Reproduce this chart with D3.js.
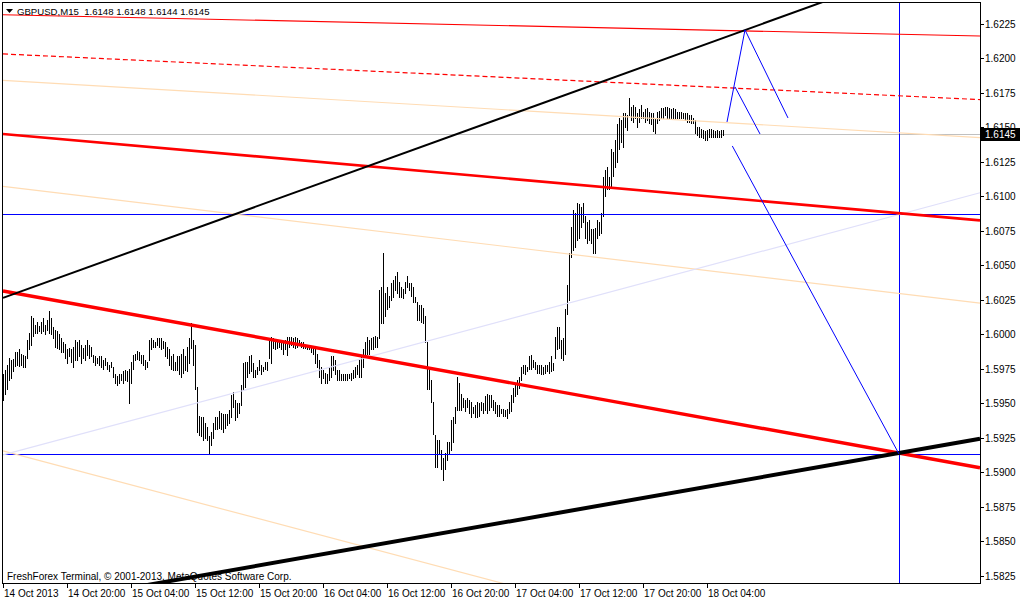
<!DOCTYPE html>
<html><head><meta charset="utf-8">
<script src="https://cdn.jsdelivr.net/npm/d3@7"></script>
<style>
html,body{margin:0;padding:0;background:#fff;overflow:hidden;}
svg{display:block;}
text{font-family:"Liberation Sans",Arial,sans-serif;font-size:10px;fill:#000;}
</style></head><body>
<svg id="c" width="1020" height="601"></svg>
<script>
// ---------------- DATA ----------------
const symbol = "GBPUSD,M15";
const lastOHLC = [1.6148, 1.6148, 1.6144, 1.6145];
const bidPrice = 1.6145;
const watermark = "FreshForex Terminal, \u00A9 2001-2013, MetaQuotes Software Corp.";

// M15 bars, index 0 = 14 Oct 2013 12:00
const highs = [
1.5971,1.5974,1.5978,1.5983,1.5981,1.5982,1.5987,1.5987,1.5989,1.5986,
1.5985,1.5984,1.5996,1.6001,1.6013,1.6012,1.6007,1.6009,1.6006,1.6009,
1.6012,1.6007,1.6010,1.6017,1.6012,1.6005,1.6003,1.6002,1.6000,1.5997,
1.5994,1.5993,1.5989,1.5990,1.5989,1.5991,1.5996,1.5994,1.5996,1.5992,
1.5990,1.5992,1.5996,1.5992,1.5991,1.5985,1.5984,1.5983,1.5984,1.5984,
1.5981,1.5983,1.5980,1.5978,1.5980,1.5976,1.5971,1.5970,1.5971,1.5971,
1.5973,1.5974,1.5973,1.5975,1.5980,1.5985,1.5986,1.5988,1.5987,1.5985,
1.5985,1.5981,1.5980,1.5996,1.5997,1.5996,1.5994,1.5997,1.5997,1.5997,
1.5995,1.5994,1.5991,1.5989,1.5984,1.5986,1.5980,1.5984,1.5984,1.5986,
1.5989,1.5984,1.5991,1.5997,1.6008,1.5996,1.5992,1.5962,1.5941,1.5940,
1.5940,1.5936,1.5933,1.5926,1.5929,1.5936,1.5940,1.5940,1.5944,1.5943,
1.5942,1.5942,1.5942,1.5945,1.5956,1.5958,1.5952,1.5950,1.5950,1.5963,
1.5979,1.5980,1.5980,1.5984,1.5985,1.5979,1.5974,1.5976,1.5981,1.5978,
1.5976,1.5980,1.5980,1.5996,1.5998,1.5997,1.5996,1.5994,1.5996,1.5994,
1.5994,1.5996,1.5998,1.5998,1.5998,1.5997,1.5998,1.5997,1.5996,1.5994,
1.5994,1.5992,1.5992,1.5991,1.5991,1.5991,1.5990,1.5986,1.5981,1.5976,
1.5974,1.5972,1.5971,1.5976,1.5984,1.5984,1.5981,1.5974,1.5974,1.5971,
1.5971,1.5971,1.5971,1.5971,1.5972,1.5974,1.5976,1.5978,1.5981,1.5985,
1.5989,1.5994,1.5998,1.5996,1.5997,1.5998,1.5999,1.5998,1.6032,1.6034,
1.6059,1.6030,1.6034,1.6028,1.6037,1.6039,1.6042,1.6045,1.6038,1.6034,
1.6033,1.6038,1.6042,1.6037,1.6037,1.6034,1.6027,1.6023,1.6021,1.6021,
1.6019,1.6013,1.5994,1.5976,1.5967,1.5951,1.5927,1.5923,1.5923,1.5916,
1.5910,1.5914,1.5922,1.5922,1.5938,1.5940,1.5947,1.5969,1.5965,1.5957,
1.5954,1.5952,1.5954,1.5952,1.5951,1.5947,1.5949,1.5951,1.5950,1.5951,
1.5950,1.5955,1.5957,1.5956,1.5956,1.5952,1.5951,1.5949,1.5949,1.5946,
1.5946,1.5945,1.5946,1.5951,1.5956,1.5961,1.5965,1.5967,1.5969,1.5976,
1.5978,1.5978,1.5976,1.5984,1.5985,1.5981,1.5980,1.5978,1.5978,1.5978,
1.5976,1.5978,1.5978,1.5980,1.5984,1.5979,1.5998,1.6005,1.6005,1.5996,
1.5997,1.6018,1.6036,1.6059,1.6078,1.6090,1.6088,1.6095,1.6094,1.6092,
1.6095,1.6086,1.6081,1.6083,1.6076,1.6076,1.6077,1.6083,1.6081,1.6088,
1.6114,1.6119,1.6121,1.6114,1.6134,1.6132,1.6141,1.6152,1.6157,1.6155,
1.6160,1.6160,1.6159,1.6171,1.6165,1.6166,1.6165,1.6160,1.6163,1.6166,
1.6161,1.6163,1.6164,1.6161,1.6160,1.6160,1.6157,1.6161,1.6162,1.6164,
1.6164,1.6165,1.6165,1.6164,1.6163,1.6164,1.6163,1.6161,1.6161,1.6161,
1.6160,1.6160,1.6160,1.6159,1.6159,1.6157,1.6155,1.6150,1.6150,1.6149,
1.6148,1.6147,1.6148,1.6149,1.6149,1.6148,1.6147,1.6148,1.6147,1.6148,1.6148
];
const lows = [
1.5952,1.5957,1.5960,1.5967,1.5968,1.5973,1.5977,1.5978,1.5977,1.5978,
1.5976,1.5976,1.5983,1.5989,1.5992,1.5999,1.6001,1.6001,1.6002,1.6001,
1.6002,1.6000,1.6003,1.6001,1.6000,1.5997,1.5991,1.5990,1.5989,1.5987,
1.5987,1.5983,1.5979,1.5984,1.5980,1.5976,1.5981,1.5981,1.5984,1.5979,
1.5983,1.5981,1.5985,1.5983,1.5984,1.5980,1.5978,1.5979,1.5978,1.5976,
1.5975,1.5978,1.5975,1.5973,1.5976,1.5969,1.5965,1.5963,1.5965,1.5967,
1.5965,1.5967,1.5966,1.5950,1.5965,1.5975,1.5981,1.5982,1.5981,1.5979,
1.5978,1.5975,1.5976,1.5981,1.5989,1.5991,1.5991,1.5992,1.5991,1.5989,
1.5990,1.5984,1.5983,1.5978,1.5975,1.5974,1.5974,1.5974,1.5971,1.5969,
1.5972,1.5974,1.5973,1.5979,1.5990,1.5978,1.5960,1.5929,1.5927,1.5926,
1.5923,1.5925,1.5923,1.5914,1.5920,1.5925,1.5931,1.5931,1.5932,1.5931,
1.5929,1.5932,1.5934,1.5936,1.5940,1.5947,1.5938,1.5940,1.5943,1.5949,
1.5960,1.5962,1.5969,1.5972,1.5973,1.5969,1.5969,1.5971,1.5974,1.5971,
1.5973,1.5975,1.5974,1.5983,1.5979,1.5990,1.5989,1.5990,1.5991,1.5989,
1.5986,1.5989,1.5985,1.5991,1.5992,1.5991,1.5990,1.5991,1.5992,1.5991,
1.5990,1.5990,1.5989,1.5989,1.5987,1.5986,1.5979,1.5976,1.5969,1.5965,
1.5968,1.5965,1.5965,1.5967,1.5969,1.5974,1.5971,1.5967,1.5967,1.5967,
1.5967,1.5967,1.5967,1.5968,1.5967,1.5968,1.5969,1.5971,1.5969,1.5969,
1.5976,1.5984,1.5986,1.5986,1.5989,1.5989,1.5991,1.5991,1.5997,1.6008,
1.6008,1.6013,1.6018,1.6020,1.6025,1.6027,1.6032,1.6030,1.6027,1.6027,
1.6026,1.6030,1.6034,1.6032,1.6028,1.6023,1.6023,1.6010,1.6010,1.6009,
1.6008,1.5994,1.5960,1.5960,1.5951,1.5928,1.5904,1.5904,1.5914,1.5902,
1.5894,1.5902,1.5909,1.5914,1.5916,1.5922,1.5936,1.5945,1.5945,1.5945,
1.5947,1.5944,1.5947,1.5943,1.5940,1.5943,1.5940,1.5940,1.5941,1.5945,
1.5943,1.5945,1.5943,1.5945,1.5947,1.5945,1.5943,1.5941,1.5941,1.5943,
1.5941,1.5941,1.5939,1.5943,1.5944,1.5951,1.5955,1.5957,1.5961,1.5967,
1.5972,1.5971,1.5973,1.5975,1.5975,1.5976,1.5975,1.5972,1.5972,1.5971,
1.5971,1.5972,1.5973,1.5972,1.5973,1.5974,1.5983,1.5989,1.5990,1.5983,
1.5981,1.5986,1.6015,1.6025,1.6056,1.6061,1.6063,1.6068,1.6070,1.6078,
1.6081,1.6070,1.6066,1.6068,1.6066,1.6059,1.6059,1.6070,1.6072,1.6073,
1.6086,1.6100,1.6105,1.6105,1.6107,1.6115,1.6121,1.6125,1.6134,1.6139,
1.6136,1.6150,1.6148,1.6159,1.6155,1.6154,1.6157,1.6150,1.6154,1.6157,
1.6157,1.6154,1.6155,1.6153,1.6152,1.6147,1.6146,1.6153,1.6155,1.6157,
1.6157,1.6159,1.6157,1.6157,1.6157,1.6157,1.6157,1.6157,1.6157,1.6157,
1.6157,1.6155,1.6154,1.6154,1.6153,1.6153,1.6146,1.6144,1.6143,1.6143,
1.6142,1.6141,1.6141,1.6143,1.6143,1.6143,1.6143,1.6143,1.6143,1.6143,1.6144
];

const timeTickBars   = [0, 32, 64, 96, 128, 160, 192, 224, 256, 288, 320, 352];
const timeTickLabels = ["14 Oct 2013","14 Oct 20:00","15 Oct 04:00","15 Oct 12:00","15 Oct 20:00",
  "16 Oct 04:00","16 Oct 12:00","16 Oct 20:00","17 Oct 04:00","17 Oct 12:00","17 Oct 20:00","18 Oct 04:00"];
const priceTicks = [1.5825,1.5850,1.5875,1.5900,1.5925,1.5950,1.5975,1.6000,1.6025,1.6050,
  1.6075,1.6100,1.6125,1.6150,1.6175,1.6200,1.6225];

// drawn objects: [barIndex, price] endpoints
const blackUpper   = [[0, 1.60263], [440, 1.62565]];
const blackLower   = [[0, 1.57999], [488.5, 1.59242]];
const redLower     = [[0, 1.60313], [488.5, 1.59032]];
const redUpper     = [[0, 1.61451], [488.5, 1.60825]];
const redThin      = [[0, 1.62315], [488.5, 1.62161]];
const redDashed    = [[0, 1.62031], [488.5, 1.61700]];
const peachTop     = [[0, 1.61840], [488.5, 1.61425]];
const peachMid     = [[0, 1.61071], [488.5, 1.60225]];
const peachLow     = [[0, 1.59154], [300, 1.58002]];
const lavender     = [[0, 1.59125], [488.5, 1.61025]];
const projUp       = [[362, 1.61538], [371, 1.62205]];
const projDown1    = [[371, 1.62205], [392.5, 1.61567]];
const projDown2    = [[366, 1.61792], [378.5, 1.61451]];
const projDownLong = [[364.65, 1.61364], [448, 1.59132]];
const hLevels = [1.6087, 1.5913];
const vLineBar = 448;

// ---------------- DRAW ----------------
const W = 1020, H = 601;
const plot = {left: 2, top: 2, right: 980, bottom: 583};
const x = d3.scaleLinear().domain([0, 488.5]).range([3, 980]);
const y = d3.scaleLinear().domain([1.5825, 1.6225]).range([575.7, 23.7]);

const svg = d3.select("#c");
svg.append("rect").attr("width", W).attr("height", H).attr("fill", "#fff");

svg.append("clipPath").attr("id", "clip").append("rect")
  .attr("x", plot.left + 0.5).attr("y", plot.top + 0.5)
  .attr("width", plot.right - plot.left).attr("height", plot.bottom - plot.top);

const g = svg.append("g").attr("clip-path", "url(#clip)");

// watermark
g.append("text").attr("x", 7).attr("y", 579.5).text(watermark);

// bid line
g.append("line").attr("x1", plot.left).attr("x2", plot.right)
  .attr("y1", Math.round(y(bidPrice)) + 0.5).attr("y2", Math.round(y(bidPrice)) + 0.5)
  .attr("stroke", "#c0c0c0").attr("stroke-width", 1).attr("shape-rendering", "crispEdges");

// bars (high-low)
const bars = highs.map((h, i) => ({i, h, l: lows[i]}));
g.append("g").selectAll("rect").data(bars).join("rect")
  .attr("x", d => Math.round(x(d.i)))
  .attr("y", d => Math.round(y(d.h)))
  .attr("width", 1)
  .attr("height", d => Math.max(1, Math.round(y(d.l)) - Math.round(y(d.h)) + 1))
  .attr("fill", "#000").attr("shape-rendering", "crispEdges");

// horizontal & vertical levels
hLevels.forEach(p => {
  const yy = Math.round(y(p)) + 0.5;
  g.append("line").attr("x1", plot.left).attr("x2", plot.right).attr("y1", yy).attr("y2", yy)
    .attr("stroke", "#0000ff").attr("stroke-width", 1).attr("shape-rendering", "crispEdges");
});
g.append("line").attr("x1", Math.round(x(vLineBar)) + 0.5).attr("x2", Math.round(x(vLineBar)) + 0.5)
  .attr("y1", plot.top).attr("y2", plot.bottom)
  .attr("stroke", "#0000ff").attr("stroke-width", 1).attr("shape-rendering", "crispEdges");

const line = d3.line().x(d => x(d[0])).y(d => y(d[1]));
const objects = [
  {d: peachTop, c: "#ffdcb4", w: 1.2},
  {d: peachMid, c: "#ffdcb4", w: 1.2},
  {d: peachLow, c: "#ffdcb4", w: 1.2},
  {d: lavender, c: "#e0e0fa", w: 1.2},
  {d: redThin, c: "#ff0000", w: 1.2},
  {d: redDashed, c: "#ff0000", w: 1.2, dash: "5,3"},
  {d: redUpper, c: "#ff0000", w: 2.6},
  {d: redLower, c: "#ff0000", w: 3.4},
  {d: blackUpper, c: "#000000", w: 2},
  {d: blackLower, c: "#000000", w: 4},
  {d: projUp, c: "#0000ff", w: 1},
  {d: projDown1, c: "#0000ff", w: 1},
  {d: projDown2, c: "#0000ff", w: 1},
  {d: projDownLong, c: "#0000ff", w: 1}
];
objects.forEach(o => {
  g.append("path").attr("d", line(o.d)).attr("fill", "none")
    .attr("stroke", o.c).attr("stroke-width", o.w)
    .attr("stroke-dasharray", o.dash || null);
});

// frame
svg.append("rect").attr("x", plot.left + 0.5).attr("y", plot.top + 0.5)
  .attr("width", plot.right - plot.left).attr("height", plot.bottom - plot.top)
  .attr("fill", "none").attr("stroke", "#000").attr("stroke-width", 1)
  .attr("shape-rendering", "crispEdges");

// price axis
priceTicks.forEach(p => {
  const yy = Math.round(y(p)) + 0.5;
  svg.append("line").attr("x1", plot.right).attr("x2", plot.right + 4).attr("y1", yy).attr("y2", yy)
    .attr("stroke", "#000").attr("shape-rendering", "crispEdges");
  svg.append("text").attr("x", plot.right + 5).attr("y", yy + 3.5).text(p.toFixed(4));
});
// bid box
const by = Math.round(y(bidPrice));
svg.append("rect").attr("x", plot.right + 1).attr("y", by - 6).attr("width", 39).attr("height", 13)
  .attr("fill", "#000");
svg.append("text").attr("x", plot.right + 5).attr("y", by + 4).style("fill", "#fff").text(bidPrice.toFixed(4));

// time axis
timeTickBars.forEach((b, k) => {
  const xx = Math.round(x(b)) + 0.5;
  svg.append("line").attr("x1", xx).attr("x2", xx).attr("y1", plot.bottom).attr("y2", plot.bottom + 5)
    .attr("stroke", "#000").attr("shape-rendering", "crispEdges");
  svg.append("text").attr("x", xx + 0.5).attr("y", 597).text(timeTickLabels[k]);
});

// header
svg.append("path").attr("d", "M6,9 L13,9 L9.5,13 Z").attr("fill", "#000");
svg.append("text").attr("x", 17).attr("y", 14.5).style("white-space", "pre").style("font-size", "9.6px")
  .text(symbol + "  " + lastOHLC.map(v => v.toFixed(4)).join(" "));
</script>
</body></html>
